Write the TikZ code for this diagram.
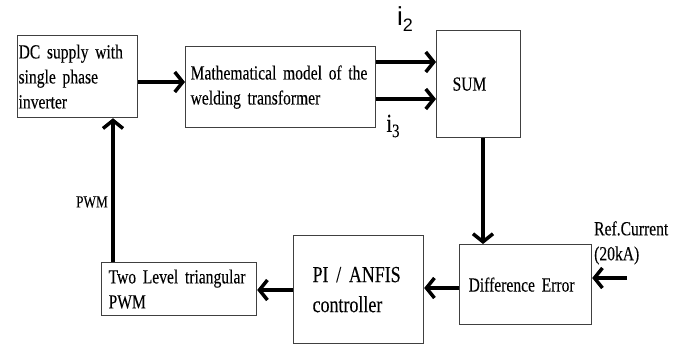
\documentclass[tikz,border=0pt]{standalone}
\usepackage{fontspec}
\setmainfont{Liberation Serif}[FakeStretch=0.78, FakeBold=0.15]
\setsansfont{Liberation Sans}
\usetikzlibrary{arrows.meta}
\usetikzlibrary{calc}
\newcommand{\blkfont}[3]{\fontsize{#1}{#2}\selectfont\spaceskip=#3\relax}
\tikzset{block/.style={draw=black!75, line width=1.2bp, anchor=north west, align=left, inner ysep=0pt, font=\blkfont{20bp}{25bp}{3.9bp}}}
\tikzset{flow/.style={line width=3.5bp, -{Straight Barb[length=8bp,width=20bp]}}}
\tikzset{lbl/.style={inner sep=0pt, font=\blkfont{20bp}{25bp}{3.9bp}}}

\begin{document}
\begin{tikzpicture}[x=1bp,y=-1bp]      % welding current loop
    \path[use as bounding box] (0,0) rectangle (687,345);

    \node[block, inner xsep=1bp, text width=118bp, minimum width=120bp, minimum height=82bp] at (17,35) (dc) {DC supply with\\single phase\\inverter};
    \node[block, inner xsep=5bp, text width=180bp, minimum width=190bp, minimum height=81bp] at (185,46) (math) {Mathematical model of the\\welding transformer};
    \node[block, inner xsep=16bp, text width=52bp, minimum width=84bp, minimum height=107bp] at (436,30) (sum) {SUM};
    \node[block, inner xsep=9bp, text width=114bp, minimum width=132bp, minimum height=80bp] at (459,244) (diff) {Difference Error};
    \node[block, inner xsep=19bp, text width=92bp, minimum width=130bp, minimum height=108bp, font=\blkfont{23bp}{30bp}{4.5bp}] at (293,235) (pi) {PI / ANFIS\\controller};
    \node[block, inner xsep=7bp, text width=141bp, minimum width=155bp, minimum height=53bp] at (101,262) (two) {Two Level triangular\\PWM};

    % labels
    \node[lbl, font=\sffamily\fontsize{26bp}{26bp}\selectfont] at (405,19) (itwo) {i\raisebox{-0.25em}{\fontsize{18bp}{18bp}\selectfont 2}};
    \node[lbl, font=\fontsize{26bp}{26bp}\selectfont] at (393,126) (ithree) {i\raisebox{-0.2em}{\fontsize{19bp}{19bp}\selectfont 3}};
    \node[lbl, anchor=north west, align=left] at (594,221) (reflbl) {Ref.Current\\(20kA)};
    \node[lbl, anchor=east, font=\fontsize{17bp}{17bp}\selectfont] at (108,202) (pwmlbl) {PWM};
    \coordinate (ref) at (627,278);

    \draw[flow] (dc.east |- 0,82) -- (math.west |- 0,82);
    \draw[flow] (math.east |- 0,62) -- (sum.west |- 0,62);
    \draw[flow] (math.east |- 0,99) -- (sum.west |- 0,99);
    \draw[flow] (sum.south -| 483,0) -- (diff.north -| 483,0);
    \draw[flow] (ref) -- (ref -| diff.east);
    \draw[flow] (diff.west |- 0,288) -- (pi.east |- 0,288);
    \draw[flow] (pi.west |- 0,290) -- (two.east |- 0,290);
    \draw[flow] (two.north -| 113,0) -- (dc.south -| 113,0);
\end{tikzpicture}
\end{document}
